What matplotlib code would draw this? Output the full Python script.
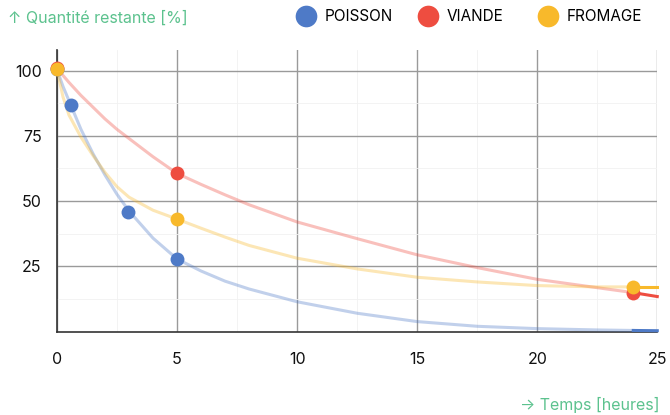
import matplotlib.pyplot as plt
from matplotlib.lines import Line2D
from matplotlib.ticker import MultipleLocator

plt.rcParams['font.family'] = ['Inter', 'DejaVu Sans']

poisson_t = [0, 0.58, 2.94, 5]
poisson_q = [100.5, 86.7, 46, 27.8]
viande_t = [0, 5, 24]
viande_q = [101, 60.6, 14.9]
fromage_t = [0, 5, 24]
fromage_q = [100.5, 43.1, 17.2]

# model curves
curve_t = [0, 0.25, 0.5, 1, 1.5, 2, 2.5, 3, 4, 5, 6, 7, 8, 10, 12.5, 15, 17.5, 20, 22.5, 24, 25]
poisson_curve = [100.5, 94, 88.5, 77.5, 68.2, 60, 52.6, 46.2, 35.8, 27.8, 23.2, 19.3, 16.3,
                 11.4, 7.0, 3.8, 2.0, 1.1, 0.6, 0.4, 0.3]
viande_curve = [101, 98.2, 95.5, 90.5, 86, 81.5, 77.5, 74, 67, 60.6, 56.4, 52.4, 48.6,
                42, 35.6, 29.4, 24.5, 20.0, 16.8, 14.9, 13.4]
fromage_curve = [100.5, 90, 83, 74.5, 67.5, 61, 55.5, 51.5, 46.5, 43.1, 39.6, 36.2, 33,
                 28.1, 24, 20.8, 19.0, 17.6, 17.1, 17.1, 17.1]

series = [
    ('POISSON', poisson_t, poisson_q, poisson_curve, '#4e7ac7'),
    ('VIANDE', viande_t, viande_q, viande_curve, '#ee4d40'),
    ('FROMAGE', fromage_t, fromage_q, fromage_curve, '#f8b92b'),
]

fig = plt.figure(figsize=(6.7, 4.15), dpi=100)
ax = fig.add_axes([0.085, 0.2012, 0.896, 0.6788])

last_t = 24
for name, t, q, curve, col in series:
    i = curve_t.index(last_t)
    ax.plot(curve_t[:i + 1], curve[:i + 1], color=col, alpha=0.35, lw=2.2,
            solid_joinstyle='round', zorder=3)
    ax.plot(curve_t[i:], curve[i:], color=col, lw=2.2, zorder=3, clip_on=False)
    ax.plot(t, q, 'o', color=col, ms=10, mew=0, zorder=4, clip_on=False)

ax.set_xlim(0, 25)
ax.set_ylim(0, 108)
ax.set_xticks([0, 5, 10, 15, 20, 25])
ax.set_yticks([25, 50, 75, 100])
ax.xaxis.set_minor_locator(MultipleLocator(2.5))
ax.yaxis.set_minor_locator(MultipleLocator(12.5))
ax.grid(True, which='major', color='#9a9a9a', lw=1)
ax.grid(True, which='minor', color='#f1f1f1', lw=0.6)
ax.set_axisbelow(True)
for s in ['top', 'right']:
    ax.spines[s].set_visible(False)
for s in ['left', 'bottom']:
    ax.spines[s].set_color('#333333')
    ax.spines[s].set_linewidth(1.2)
ax.tick_params(which='both', length=0, labelsize=11.5, colors='#111111')
ax.tick_params(axis='x', pad=15)
ax.tick_params(axis='y', pad=11)

fig.text(0.012, 0.957, '↑ Quantité restante [%]', color='#5cc28e', fontsize=11.5,
         va='center', ha='left')
fig.text(0.985, 0.024, '→ Temps [heures]', color='#5cc28e', fontsize=11.5,
         va='center', ha='right')

# legend entries placed one by one (uneven spacing in the original)
legend_x = [294.5, 416.5, 536.5]
for (name, t, q, curve, col), lx in zip(series, legend_x):
    h = Line2D([], [], marker='o', ls='', color=col, ms=15.6, mew=0, label=name)
    fig.legend(handles=[h], loc='center left', bbox_to_anchor=(lx / 670, 1 - 16.5 / 415),
               frameon=False, fontsize=11, handlelength=1.5, handletextpad=0.49,
               borderpad=0, borderaxespad=0)

fig.savefig('out.png', dpi=100)
